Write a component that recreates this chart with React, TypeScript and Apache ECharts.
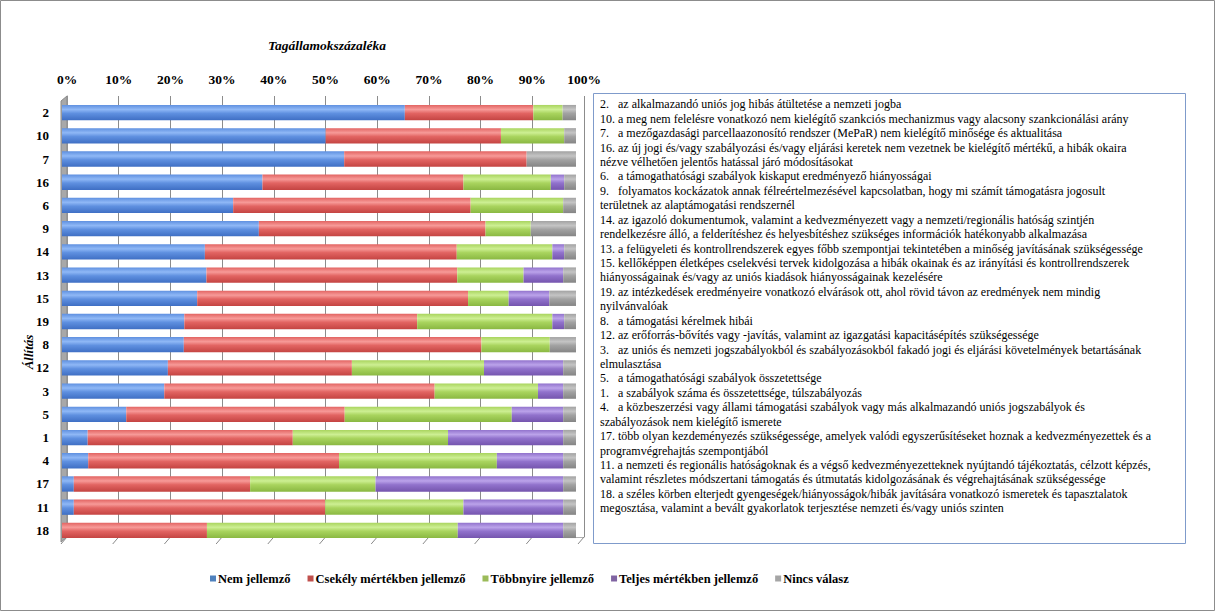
import React, { useEffect, useRef } from "react";
import * as echarts from "echarts";

const categories = ["2", "10", "7", "16", "6", "9", "14", "13", "15", "19", "8", "12", "3", "5", "1", "4", "17", "11", "18"];
const nemJellemzo = [66.7, 51.3, 54.9, 39.0, 33.3, 38.3, 27.8, 28.1, 26.3, 23.8, 23.7, 20.6, 19.9, 12.5, 5.0, 5.1, 2.3, 2.3, 0];
const csekely = [25.0, 34.1, 35.5, 39.1, 46.2, 44.1, 49.0, 48.8, 52.7, 45.3, 57.9, 35.8, 52.6, 42.5, 39.9, 48.8, 34.3, 48.9, 28.2];
const tobbnyire = [5.7, 12.3, 0, 17.0, 18.0, 8.8, 18.6, 12.9, 7.9, 26.3, 13.3, 25.7, 20.1, 32.5, 30.2, 30.7, 24.4, 26.9, 48.8];
const teljes = [0, 0, 0, 2.6, 0, 0, 2.3, 7.7, 7.9, 2.3, 0, 15.4, 4.9, 10.0, 22.4, 12.9, 36.5, 19.4, 20.5];
const nincs = [2.6, 2.3, 9.6, 2.3, 2.5, 8.8, 2.3, 2.5, 5.2, 2.3, 5.1, 2.5, 2.5, 2.5, 2.5, 2.5, 2.5, 2.5, 2.5];

const seriesNames = ["Nem jellemző", "Csekély mértékben jellemző", "Többnyire jellemző", "Teljes mértékben jellemző", "Nincs válasz"];
const xTicks = [0, 10, 20, 30, 40, 50, 60, 70, 80, 90, 100];

const titleText = "Tagállamokszázaléka";
const yAxisName = "Állítás";

const descriptionLines = [
  "2.   az alkalmazandó uniós jog hibás átültetése a nemzeti jogba",
  "10. a meg nem felelésre vonatkozó nem kielégítő szankciós mechanizmus vagy alacsony szankcionálási arány",
  "7.   a mezőgazdasági parcellaazonosító rendszer (MePaR) nem kielégítő minősége és aktualitása",
  "16. az új jogi és/vagy szabályozási és/vagy eljárási keretek nem vezetnek be kielégítő mértékű, a hibák okaira",
  "nézve vélhetően jelentős hatással járó módosításokat",
  "6.   a támogathatósági szabályok kiskaput eredményező hiányosságai",
  "9.   folyamatos kockázatok annak félreértelmezésével kapcsolatban, hogy mi számít támogatásra jogosult",
  "területnek az alaptámogatási rendszernél",
  "14. az igazoló dokumentumok, valamint a kedvezményezett vagy a nemzeti/regionális hatóság szintjén",
  "rendelkezésre álló, a felderítéshez és helyesbítéshez szükséges információk hatékonyabb alkalmazása",
  "13. a felügyeleti és kontrollrendszerek egyes főbb szempontjai tekintetében a minőség javításának szükségessége",
  "15. kellőképpen életképes cselekvési tervek kidolgozása a hibák okainak és az irányítási és kontrollrendszerek",
  "hiányosságainak és/vagy az uniós kiadások hiányosságainak kezelésére",
  "19. az intézkedések eredményeire vonatkozó elvárások ott, ahol rövid távon az eredmények nem mindig",
  "nyilvánvalóak",
  "8.   a támogatási kérelmek hibái",
  "12. az erőforrás-bővítés vagy -javítás, valamint az igazgatási kapacitásépítés szükségessége",
  "3.   az uniós és nemzeti jogszabályokból és szabályozásokból fakadó jogi és eljárási követelmények betartásának",
  "elmulasztása",
  "5.   a támogathatósági szabályok összetettsége",
  "1.   a szabályok száma és összetettsége, túlszabályozás",
  "4.   a közbeszerzési vagy állami támogatási szabályok vagy más alkalmazandó uniós jogszabályok és",
  "szabályozások nem kielégítő ismerete",
  "17. több olyan kezdeményezés szükségessége, amelyek valódi egyszerűsítéseket hoznak a kedvezményezettek és a",
  "programvégrehajtás szempontjából",
  "11. a nemzeti és regionális hatóságoknak és a végső kedvezményezetteknek nyújtandó tájékoztatás, célzott képzés,",
  "valamint részletes módszertani támogatás és útmutatás kidolgozásának és végrehajtásának szükségessége",
  "18. a széles körben elterjedt gyengeségek/hiányosságok/hibák javítására vonatkozó ismeretek és tapasztalatok",
  "megosztása, valamint a bevált gyakorlatok terjesztése nemzeti és/vagy uniós szinten",
];

const palette = [
  { base: "#5f90e0", light: "#8fb8f6", dark: "#3f6fc4", solid: "#4f81bd" },
  { base: "#e26462", light: "#f79a98", dark: "#c44442", solid: "#c0504d" },
  { base: "#a9d45e", light: "#cdef93", dark: "#8ab842", solid: "#9bbb59" },
  { base: "#9172cc", light: "#bba3ea", dark: "#7555ae", solid: "#8064a2" },
  { base: "#a2a2a2", light: "#c4c4c4", dark: "#858585", solid: "#a5a5a5" },
];

const SERIF = "Liberation Serif";

export default function App() {
  const ref = useRef<HTMLDivElement>(null);

  useEffect(() => {
    if (!ref.current) return;
    const chart = echarts.init(ref.current, undefined, { renderer: "svg" });
    const dataSets = [nemJellemzo, csekely, tobbnyire, teljes, nincs];

    const plotLeft = 62;
    const plotTop = 101;
    const plotW = 514;
    const plotH = 441;
    const depth = 5;

    const floorTicks: any[] = xTicks.map((t) => {
      const x = plotLeft + depth + (t / 100) * (plotW + 3);
      return {
        type: "line",
        shape: { x1: x, y1: plotTop + plotH - depth, x2: x - 6, y2: plotTop + plotH + 2 },
        style: { stroke: "#8a8a8a", lineWidth: 1 },
        z: 1,
      };
    });

    const option: any = {
      animation: false,
      backgroundColor: "#ffffff",
      textStyle: { fontFamily: SERIF },
      title: {
        text: titleText,
        left: 322,
        top: 33,
        textAlign: "center",
        textStyle: { fontFamily: SERIF, fontSize: 13.5, fontStyle: "italic", fontWeight: "bold", color: "#000" },
      },
      legend: {
        left: 205,
        top: 567,
        itemWidth: 6,
        itemHeight: 6,
        itemGap: 17,
        icon: "rect",
        textStyle: { fontFamily: SERIF, fontSize: 12.5, fontWeight: "bold", color: "#000", padding: [0, 0, 0, -3] },
        data: seriesNames.map((n, i) => ({ name: n, itemStyle: { color: palette[i].solid } })),
      },
      grid: [
        { left: plotLeft, top: plotTop, width: plotW, height: plotH },
        { left: plotLeft + depth, top: plotTop - depth, width: plotW + 3, height: plotH },
      ],
      xAxis: [
        { gridIndex: 0, type: "value", min: 0, max: 100, show: false },
        {
          gridIndex: 1,
          type: "value",
          min: 0,
          max: 100,
          interval: 10,
          position: "top",
          axisLine: { show: true, lineStyle: { color: "#b0b0b0" } },
          axisTick: { show: false },
          axisLabel: {
            formatter: "{value}%",
            fontFamily: SERIF,
            fontSize: 13.5,
            fontWeight: "bold",
            color: "#000",
            margin: 10,
          },
          splitLine: { show: true, lineStyle: { color: "#8c8c8c", width: 1 } },
        },
      ],
      yAxis: [
        {
          gridIndex: 0,
          type: "category",
          data: categories,
          inverse: true,
          axisLine: { show: false },
          axisTick: { show: false },
          axisLabel: { fontFamily: SERIF, fontSize: 13, fontWeight: "bold", color: "#000", margin: 13 },
        },
        {
          gridIndex: 1,
          type: "value",
          min: 0,
          max: 1,
          position: "right",
          axisLine: { show: true, lineStyle: { color: "#9a9a9a" } },
          axisTick: { show: false },
          axisLabel: { show: false },
          splitLine: { show: false },
        },
      ],
      series: dataSets.map((d, i) => ({
        name: seriesNames[i],
        type: "bar",
        stack: "total",
        xAxisIndex: 0,
        yAxisIndex: 0,
        barCategoryGap: "34%",
        data: d,
        itemStyle: {
          color: new echarts.graphic.LinearGradient(0, 0, 0, 1, [
            { offset: 0, color: palette[i].base },
            { offset: 0.3, color: palette[i].light },
            { offset: 0.55, color: palette[i].base },
            { offset: 1, color: palette[i].dark },
          ]),
        },
        emphasis: { disabled: true },
      })),
      graphic: [
        {
          type: "rect",
          shape: { x: 0.5, y: 0.5, width: 1214, height: 610 },
          style: { fill: "none", stroke: "#8c8c8c", lineWidth: 1 },
          z: 0,
        },
        {
          type: "polygon",
          shape: {
            points: [
              [plotLeft - 1, plotTop],
              [plotLeft + depth, plotTop - depth],
              [plotLeft + depth, plotTop + plotH - depth],
              [plotLeft - 1, plotTop + plotH],
            ],
          },
          style: { fill: "#a8a8a8", stroke: "#8a8a8a", lineWidth: 1 },
          z: 1,
        },
        ...floorTicks,
        {
          type: "text",
          x: 28,
          y: 352,
          rotation: Math.PI / 2,
          z: 6,
          style: {
            text: yAxisName,
            fontFamily: SERIF,
            fontSize: 13,
            fontStyle: "italic",
            fontWeight: "bold",
            fill: "#000",
            align: "center",
            verticalAlign: "middle",
          },
        },
        {
          type: "rect",
          shape: { x: 593.5, y: 93.5, width: 592, height: 450 },
          style: { fill: "#ffffff", stroke: "#7f9bcb", lineWidth: 1 },
          z: 5,
        },
        {
          type: "text",
          x: 600,
          y: 97,
          z: 6,
          style: {
            text: descriptionLines.join("\n"),
            fontFamily: SERIF,
            fontSize: 12,
            lineHeight: 14.43,
            fill: "#000",
          },
        },
      ],
    };

    chart.setOption(option);
    return () => chart.dispose();
  }, []);

  return (
    <div
      ref={ref}
      style={{ position: "fixed", left: 0, top: 0, width: 1216, height: 612, background: "#fff" }}
    />
  );
}
